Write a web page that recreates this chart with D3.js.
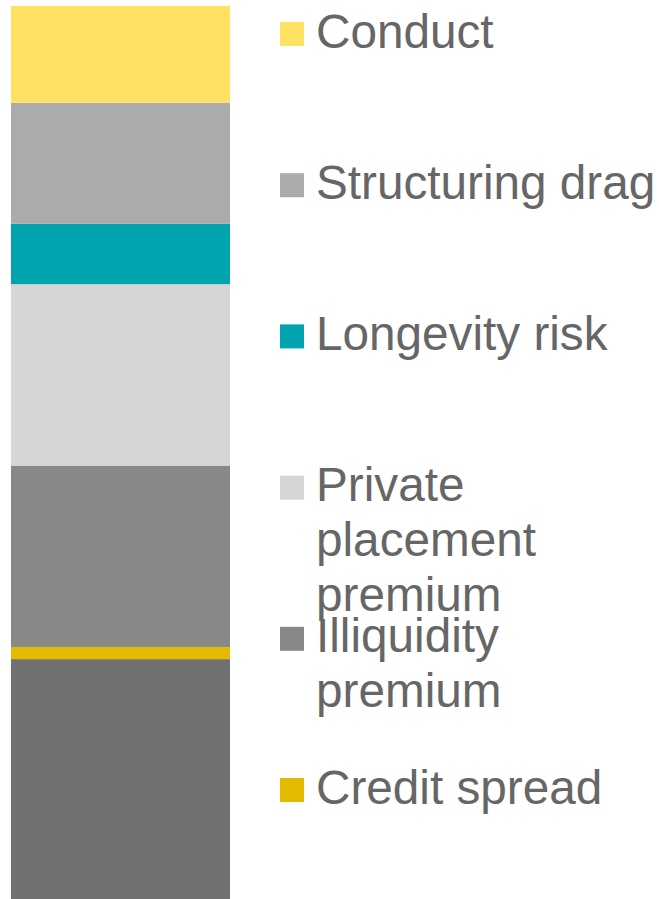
<!DOCTYPE html>
<html>
<head>
<meta charset="utf-8">
<script src="https://cdn.jsdelivr.net/npm/d3@7"></script>
<style>
  html, body { margin: 0; padding: 0; background: #ffffff; overflow: hidden; }
  svg { display: block; }
</style>
</head>
<body>
<div id="chart"><svg></svg></div>
<script>
// stack, top to bottom
var categories = ["Conduct", "Structuring drag", "Longevity risk", "Private placement premium", "Illiquidity premium", "Credit spread", ""];
var values = [1.6, 2, 1, 3, 3, 0.2, 4];
var colors = ["#ffe264", "#ababab", "#00a3ae", "#d6d6d6", "#888888", "#e3ba00", "#707070"];

var width = 659,
    height = 899;

var svg = d3.select("#chart svg")
    .attr("width", width)
    .attr("height", height);

var total = d3.sum(values);

// bar base sits just below the visible area
var y = d3.scaleLinear()
    .domain([0, total])
    .range([901, 6]);

var x = d3.scaleBand()
    .domain(["bar"])
    .range([11, 230]);

// build stack from the bottom up
var segs = [];
var acc = 0;
for (var i = values.length - 1; i >= 0; i--) {
    segs.push({ name: categories[i], v0: acc, v1: acc + values[i], color: colors[i] });
    acc += values[i];
}

svg.append("g")
    .selectAll("rect")
    .data(segs)
    .enter().append("rect")
        .attr("x", x("bar"))
        .attr("width", x.bandwidth())
        .attr("y", function(d) { return y(d.v1); })
        .attr("height", function(d) { return y(d.v0) - y(d.v1); })
        .style("fill", function(d) { return d.color; });

// legend
var legendItems = categories.map(function(c, i) { return { name: c, color: colors[i], i: i }; })
    .filter(function(d) { return d.name !== ""; });

var legend = d3.scaleLinear().domain([0, 1]).range([46, 197.2]);
var maxW = 345;

var lg = svg.append("g")
    .selectAll("g")
    .data(legendItems)
    .enter().append("g")
        .attr("transform", function(d) { return "translate(280," + legend(d.i) + ")"; });

lg.append("rect")
    .attr("x", 0)
    .attr("y", -24)
    .attr("width", 24)
    .attr("height", 24)
    .style("fill", function(d) { return d.color; });

lg.append("text")
    .attr("x", 36)
    .attr("y", 1.5)
    .style("font-family", "'Liberation Sans', Arial, sans-serif")
    .style("font-size", "47.7px")
    .style("fill", "#666666")
    .each(function(d) {
        var t = d3.select(this);
        var words = d.name.split(" ");
        var line = [];
        var ts = t.append("tspan").attr("x", 36).attr("dy", 0);
        words.forEach(function(w) {
            line.push(w);
            ts.text(line.join(" "));
            if (ts.node().getComputedTextLength() > maxW && line.length > 1) {
                line.pop();
                ts.text(line.join(" "));
                line = [w];
                ts = t.append("tspan").attr("x", 36).attr("dy", 55).text(w);
            }
        });
    });
</script>
</body>
</html>
